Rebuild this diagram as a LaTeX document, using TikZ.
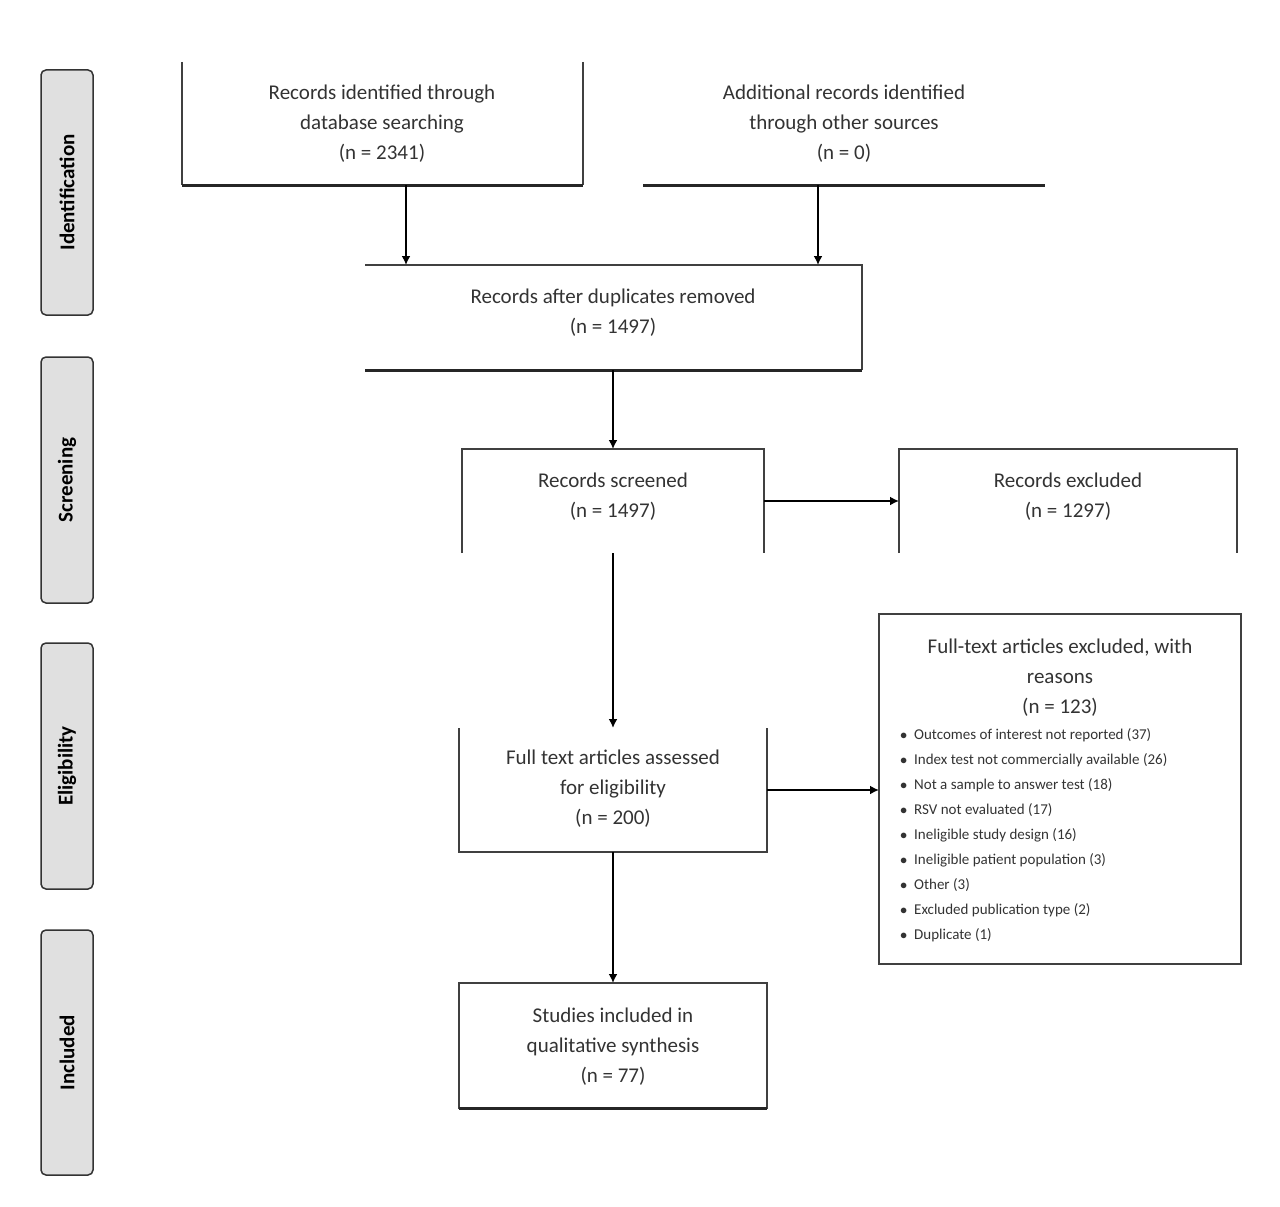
\documentclass[tikz,border=0pt]{standalone}
\usepackage{fontspec}
\setmainfont{Carlito}
\usetikzlibrary{arrows.meta}
\begin{document}
\begin{tikzpicture}[x=1pt,y=-1pt,
  txt/.style={align=center,font=\fontsize{21}{30}\selectfont,text=black!80},
  side/.style={draw=black!80,line width=1.5pt,fill=black!12,rounded corners=5pt},
  sidetxt/.style={rotate=90,font=\bfseries\fontsize{21}{24}\selectfont},
  ln/.style={draw=black!75,line width=1.2pt},
  thick line/.style={draw=black!85,line width=3pt},
  arr/.style={draw=black,line width=2.2pt,-{Latex[length=9pt,width=9pt]}}]
\useasboundingbox (0,0) rectangle (1280,1207);
% side labels
\foreach \n/\a/\b/\t in {i/70/315/Identification,s/357/603/Screening,e/643/889/Eligibility,c/930/1175/Included}{
  \draw[side] (41,\a) rectangle (93,\b);
  \node[sidetxt] (l\n) at (67,{(\a+\b)/2}) {\t};
}
% box A
\draw[ln] (182,62) -- (182,185); \draw[ln] (583,62) -- (583,185);
\draw[thick line] (182,185) -- (583,185);
\node[txt] (A) at (382,124) {Records identified through\\database searching\\(n = 2341)};
% box B
\draw[thick line] (643,185) -- (1045,185);
\node[txt] (B) at (844,124) {Additional records identified\\through other sources\\(n = 0)};
% box C
\draw[ln] (365,265) -- (862,265) -- (862,370);
\draw[thick line] (365,370) -- (862,370);
\node[txt] (C) at (613,313) {Records after duplicates removed\\(n = 1497)};
% box D
\draw[ln] (462,553) -- (462,449) -- (764,449) -- (764,553);
\node[txt] (D) at (613,497) {Records screened\\(n = 1497)};
% box E
\draw[ln] (899,553) -- (899,449) -- (1237,449) -- (1237,553);
\node[txt] (E) at (1068,497) {Records excluded\\(n = 1297)};
% box F
\draw[ln] (459,728) -- (459,852) -- (767,852) -- (767,728);
\node[txt] (F) at (613,789) {Full text articles assessed\\for eligibility\\(n = 200)};
% box G
\draw[ln] (879,614) rectangle (1241,964);
\node[txt] (G) at (1060,678) {Full-text articles excluded, with\\reasons\\(n = 123)};
\node[anchor=north west,align=left,font=\fontsize{15}{25}\selectfont,text=black!80,inner sep=0pt] (Gl) at (900,728) {%
$\bullet$\ \ Outcomes of interest not reported (37)\\
$\bullet$\ \ Index test not commercially available (26)\\
$\bullet$\ \ Not a sample to answer test (18)\\
$\bullet$\ \ RSV not evaluated (17)\\
$\bullet$\ \ Ineligible study design (16)\\
$\bullet$\ \ Ineligible patient population (3)\\
$\bullet$\ \ Other (3)\\
$\bullet$\ \ Excluded publication type (2)\\
$\bullet$\ \ Duplicate (1)};
% box H
\draw[ln] (459,983) rectangle (767,1108);
\draw[thick line] (459,1108) -- (767,1108);
\node[txt] (H) at (613,1047) {Studies included in\\qualitative synthesis\\(n = 77)};
% arrows
\draw[arr] (406,185) -- (406,265);
\draw[arr] (818,185) -- (818,265);
\draw[arr] (613,370) -- (613,449);
\draw[arr] (764,501) -- (899,501);
\draw[arr] (613,553) -- (613,728);
\draw[arr] (767,790) -- (879,790);
\draw[arr] (613,852) -- (613,983);
\end{tikzpicture}
\end{document}
